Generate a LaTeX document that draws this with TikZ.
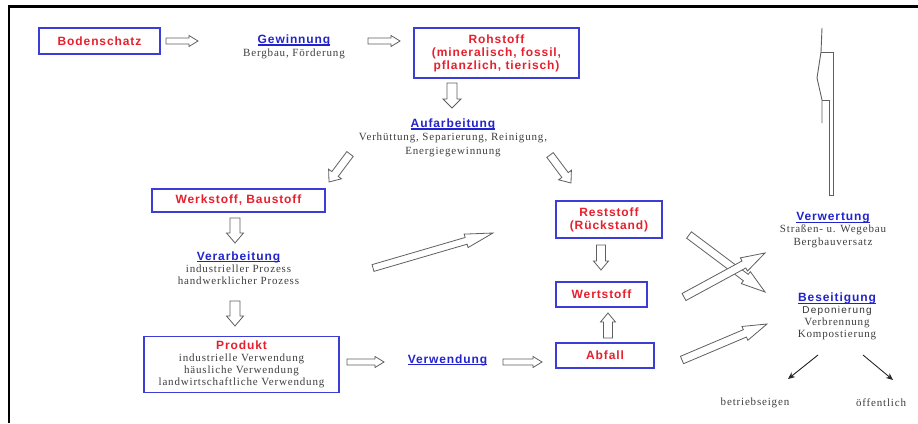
\documentclass[tikz,border=0pt]{standalone}
\usepackage{fontspec}
\setmainfont{Liberation Serif}
\setsansfont{Liberation Sans}
\newfontfamily\hdfont{Liberation Sans}[LetterSpace=7.5]
\newfontfamily\serifnote{Liberation Serif}[LetterSpace=7.5]
\newfontfamily\sansnote{Liberation Sans}[LetterSpace=12]
\usetikzlibrary{calc,arrows.meta}

\definecolor{hdred}{RGB}{230,32,45}
\definecolor{hdblue}{RGB}{35,35,205}
\definecolor{frameblue}{RGB}{60,60,215}
\definecolor{notegray}{RGB}{62,62,62}
\definecolor{arrowgray}{RGB}{95,95,95}

% word underline at a fixed distance below the baseline
\newcommand\ulword[1]{\setbox0\hbox{#1}\rlap{\rule[-2.4pt]{\wd0}{1.1pt}}\box0}
% blue, underlined heading of a process step
\newcommand\steptitle[1]{{\hdfont\bfseries\fontsize{12}{13}\selectfont\color{hdblue}\ulword{#1}}}

% hollow block arrow: tail, tip, shaft half width, head half width, head length
\newcommand\blockarrow[5]{%
  \coordinate (bahead) at ($(#2)!#5pt!(#1)$);
  \draw[blockarr]
    ($(#1)!#3pt!90:(#2)$) -- ($(bahead)!#3pt!90:(#2)$) -- ($(bahead)!#4pt!90:(#2)$)
    -- (#2)
    -- ($(bahead)!#4pt!-90:(#2)$) -- ($(bahead)!#3pt!-90:(#2)$) -- ($(#1)!#3pt!-90:(#2)$)
    -- cycle;}

\tikzset{
  stepbox/.style={draw=frameblue, line width=1.5pt, fill=white, inner sep=0pt,
    align=center, text=hdred, font=\hdfont\bfseries\fontsize{12}{13}\selectfont},
  ttl/.style={text=hdblue, font=\hdfont\bfseries\fontsize{12}{13}\selectfont, inner sep=0pt},
  txt/.style={text=notegray, align=center, inner sep=0pt},
  blockarr/.style={draw=arrowgray, line width=0.8pt, fill=white, line join=miter},
  thinarr/.style={draw=black!85, line width=0.9pt, -{Stealth[length=7pt,width=6pt]}},
}

\begin{document}
\begin{tikzpicture}[x=1pt,y=-1pt]
\useasboundingbox (0,0) rectangle (918,423);

% frame lines on top and left
\draw[line width=2.4pt, black] (918,6.6) -- (8.7,6.6) -- (8.7,423);

% boxed stages
\node[stepbox, minimum width=121, minimum height=26] (boden) at (99.5,41) {Bodenschatz};
\node[stepbox, minimum width=165, minimum height=50] (roh) at (496.5,53)
  {Rohstoff\\(mineralisch, fossil,\\pflanzlich, tierisch)};
\node[stepbox, minimum width=173, minimum height=23] (werk) at (238.5,200.5) {Werkstoff, Baustoff};
\node[stepbox, minimum width=195, minimum height=56, font=\serifnote\fontsize{11}{11.8}\selectfont,
  text=notegray] (produkt) at (241.5,364.5)
  {{\color{hdred}\hdfont\bfseries\fontsize{12}{13}\selectfont Produkt}\\industrielle Verwendung\\
   häusliche Verwendung\\landwirtschaftliche Verwendung};
\node[stepbox, minimum width=106, minimum height=37] (rest) at (609,219.5) {Reststoff\\(Rückstand)};
\node[stepbox, minimum width=91, minimum height=25] (wert) at (601.5,294.5) {Wertstoff};
\node[stepbox, minimum width=98, minimum height=25] (abfall) at (605,355.5) {Abfall};

% process steps
\node[txt, font=\serifnote\fontsize{11}{13}\selectfont] (gew) at (294,46.5)
  {\steptitle{Gewinnung}\\Bergbau, Förderung};
\node[txt, font=\serifnote\fontsize{11}{13.5}\selectfont] (auf) at (453,137.5)
  {\steptitle{Aufarbeitung}\\Verhüttung, Separierung, Reinigung,\\Energiegewinnung};
\node[txt, font=\serifnote\fontsize{11}{12.2}\selectfont] (verarb) at (238.5,268)
  {\steptitle{Verarbeitung}\\industrieller Prozess\\handwerklicher Prozess};
\node[ttl] (verw) at (447.5,360) {\ulword{Verwendung}};
\node[txt, font=\serifnote\fontsize{11}{12.4}\selectfont] (verwert) at (833,230)
  {\steptitle{Verwertung}\\Straßen- u. Wegebau\\Bergbauversatz};
\node[txt, font=\serifnote\fontsize{11}{12.2}\selectfont] (beseit) at (837,316.5)
  {\steptitle{Beseitigung}\\{\sansnote\fontsize{10}{12}\selectfont\color{black!80}Deponierung}\\Verbrennung\\Kompostierung};
\node[txt, font=\serifnote\fontsize{11}{12}\selectfont] (betr) at (755,403) {betriebseigen};
\node[txt, font=\serifnote\fontsize{11}{12}\selectfont] (oeff) at (881,403) {öffentlich};

% arrow end points
\coordinate (a1s) at (166,41);   \coordinate (a1e) at (198,41);
\coordinate (a2s) at (368,41);   \coordinate (a2e) at (400,41);
\coordinate (a3s) at (452,83);   \coordinate (a3e) at (452,108);
\coordinate (a4s) at (350,154);  \coordinate (a4e) at (329,182);
\coordinate (a5s) at (550,155);  \coordinate (a5e) at (571,183);
\coordinate (a6s) at (235,218);  \coordinate (a6e) at (235,243);
\coordinate (a7s) at (235,301);  \coordinate (a7e) at (235,326);
\coordinate (a8s) at (347,362);  \coordinate (a8e) at (384,362);
\coordinate (a9s) at (503,362);  \coordinate (a9e) at (542,362);
\coordinate (a10s) at (601,245); \coordinate (a10e) at (601,270);
\coordinate (a11s) at (608,338); \coordinate (a11e) at (608,313);
\coordinate (a12s) at (373,268); \coordinate (a12e) at (493,233);
\coordinate (a13s) at (689,235); \coordinate (a13e) at (765,292);
\coordinate (a14s) at (684,297); \coordinate (a14e) at (765,253);
\coordinate (a15s) at (682,360); \coordinate (a15e) at (767,324);

\blockarrow{a1s}{a1e}{3}{5.5}{9}
\blockarrow{a2s}{a2e}{3}{5.5}{9}
\blockarrow{a3s}{a3e}{5}{9}{9}
\blockarrow{a4s}{a4e}{4}{8}{10}
\blockarrow{a5s}{a5e}{4}{8}{10}
\blockarrow{a6s}{a6e}{5}{8.5}{10}
\blockarrow{a7s}{a7e}{5}{8.5}{10}
\blockarrow{a8s}{a8e}{3}{5.5}{9}
\blockarrow{a9s}{a9e}{3}{5.5}{9}
\blockarrow{a10s}{a10e}{4.5}{7.5}{9}
\blockarrow{a11s}{a11e}{4.5}{7.5}{9}
\blockarrow{a12s}{a12e}{3.5}{7}{28}
\blockarrow{a13s}{a13e}{4}{7.5}{24}
\blockarrow{a14s}{a14e}{4}{7.5}{24}
\blockarrow{a15s}{a15e}{4}{7.5}{24}

% tall return arrow on the right
\draw[blockarr] (821,52) -- (833,52) -- (833,195) -- (829,195) -- (829,100) -- (822,100);
\draw[arrowgray, line width=0.9pt, line join=round]
  (822,28) -- (821,52) -- (817,78) -- (822,100) -- (822,123);

% split of disposal
\coordinate (b1s) at (818,355); \coordinate (b1e) at (788,379);
\coordinate (b2s) at (863,355); \coordinate (b2e) at (893,380);
\draw[thinarr] (b1s) -- (b1e);
\draw[thinarr] (b2s) -- (b2e);
\end{tikzpicture}
\end{document}
